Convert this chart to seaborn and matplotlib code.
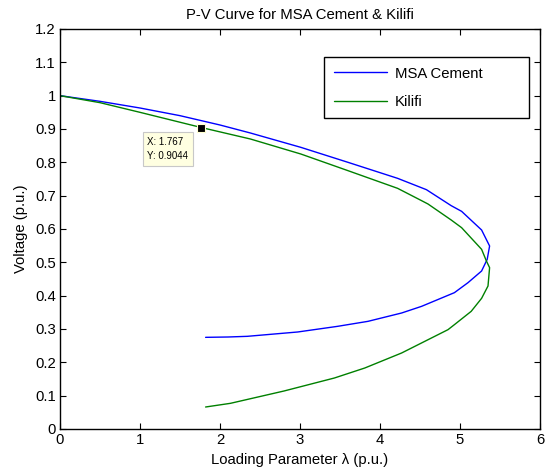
import matplotlib
matplotlib.use("Agg")
import matplotlib.pyplot as plt
import seaborn as sns
import pandas as pd
from matplotlib.ticker import FormatStrFormatter

# P-V curve samples (loading parameter lambda, bus voltage), in continuation order
msa_lambda = [0.0, 0.5, 1.0, 1.5, 2.0, 2.38, 3.01, 3.6, 4.22, 4.58, 4.89, 5.02,
              5.27, 5.37, 5.34, 5.27, 5.10, 4.93, 4.73, 4.52, 4.27, 3.85, 3.47,
              2.97, 2.34, 2.10, 1.82]
msa_voltage = [1.0, 0.983, 0.963, 0.94, 0.912, 0.888, 0.845, 0.80, 0.752, 0.718,
               0.670, 0.653, 0.597, 0.549, 0.509, 0.474, 0.439, 0.409, 0.389,
               0.368, 0.348, 0.323, 0.308, 0.291, 0.278, 0.276, 0.275]

kilifi_lambda = [0.0, 0.5, 1.0, 1.767, 2.38, 3.01, 3.6, 4.22, 4.52, 4.60, 4.89,
                 5.02, 5.27, 5.33, 5.37, 5.35, 5.27, 5.14, 4.93, 4.85, 4.27,
                 3.81, 3.43, 2.80, 2.13, 1.82]
kilifi_voltage = [1.0, 0.979, 0.950, 0.9044, 0.870, 0.825, 0.775, 0.722, 0.685,
                  0.675, 0.627, 0.604, 0.539, 0.504, 0.484, 0.429, 0.392, 0.353,
                  0.313, 0.298, 0.228, 0.183, 0.153, 0.114, 0.077, 0.066]

series_names = ["MSA Cement", "Kilifi"]
series_colors = ["#0000ff", "#008000"]

tip_lambda = 1.767
tip_voltage = 0.9044

x_ticks = [0, 1, 2, 3, 4, 5, 6]
y_ticks = [0, 0.1, 0.2, 0.3, 0.4, 0.5, 0.6, 0.7, 0.8, 0.9, 1.0, 1.1, 1.2]

df = pd.concat([
    pd.DataFrame({"lam": msa_lambda, "v": msa_voltage, "bus": series_names[0]}),
    pd.DataFrame({"lam": kilifi_lambda, "v": kilifi_voltage, "bus": series_names[1]}),
], ignore_index=True)

sns.set_style("ticks")
plt.rcParams["font.family"] = ["Liberation Sans", "DejaVu Sans"]
plt.rcParams.update({
    "xtick.direction": "in", "ytick.direction": "in",
    "xtick.top": True, "ytick.right": True,
    "xtick.major.size": 4, "ytick.major.size": 4,
    "xtick.major.width": 0.8, "ytick.major.width": 0.8,
    "axes.edgecolor": "black", "axes.linewidth": 1.0,
    "xtick.color": "black", "ytick.color": "black",
    "axes.labelcolor": "black", "text.color": "black",
})

FS = 10.7

fig = plt.figure(figsize=(5.47, 4.68), dpi=100)
ax = fig.add_axes([60 / 547, 1 - 429 / 468, 480 / 547, 400 / 468])

sns.lineplot(data=df, x="lam", y="v", hue="bus", palette=series_colors,
             hue_order=series_names, sort=False, estimator=None, units="bus",
             linewidth=1.0, ax=ax)

ax.set_xlim(0, 6)
ax.set_ylim(0, 1.2)
ax.set_xticks(x_ticks)
ax.set_yticks(y_ticks)
ax.yaxis.set_major_formatter(FormatStrFormatter("%g"))
ax.tick_params(labelsize=FS, pad=3)
for side in ["top", "right", "left", "bottom"]:
    ax.spines[side].set_visible(True)
    ax.spines[side].set_color("black")

ax.set_xlabel("Loading Parameter λ (p.u.)", fontsize=FS, labelpad=4)
ax.set_ylabel("Voltage (p.u.)", fontsize=FS, labelpad=5)
ax.set_title("P-V Curve for MSA Cement & Kilifi", fontsize=FS, pad=7)

handles, labels = ax.get_legend_handles_labels()
leg = ax.legend(handles, labels, loc="upper left", mode="expand",
                bbox_to_anchor=(0.55, 0.93, 0.427, 0.0), fontsize=FS,
                frameon=True, fancybox=False, shadow=False, edgecolor="black",
                borderpad=0.65, labelspacing=0.95, handlelength=3.6,
                handletextpad=0.5, borderaxespad=0.0)
leg.get_frame().set_linewidth(1.0)
leg.get_frame().set_facecolor("white")
leg.get_frame().set_alpha(1.0)
for line in leg.get_lines():
    line.set_linewidth(1.0)

# data tip
ax.plot([tip_lambda], [tip_voltage], marker="s", markersize=6,
        markerfacecolor="black", markeredgecolor="#ffffd0",
        markeredgewidth=0.8, zorder=5)
ax.annotate(f"X: {tip_lambda:g}\nY: {tip_voltage:g}",
            xy=(tip_lambda, tip_voltage), xytext=(-54, -9),
            textcoords="offset pixels", ha="left", va="top",
            fontsize=7, linespacing=1.6,
            bbox=dict(boxstyle="square,pad=0.45", facecolor="#ffffe1",
                      edgecolor="#c8c8c8", linewidth=0.8), zorder=6)

fig.savefig("out.png", dpi=100)
